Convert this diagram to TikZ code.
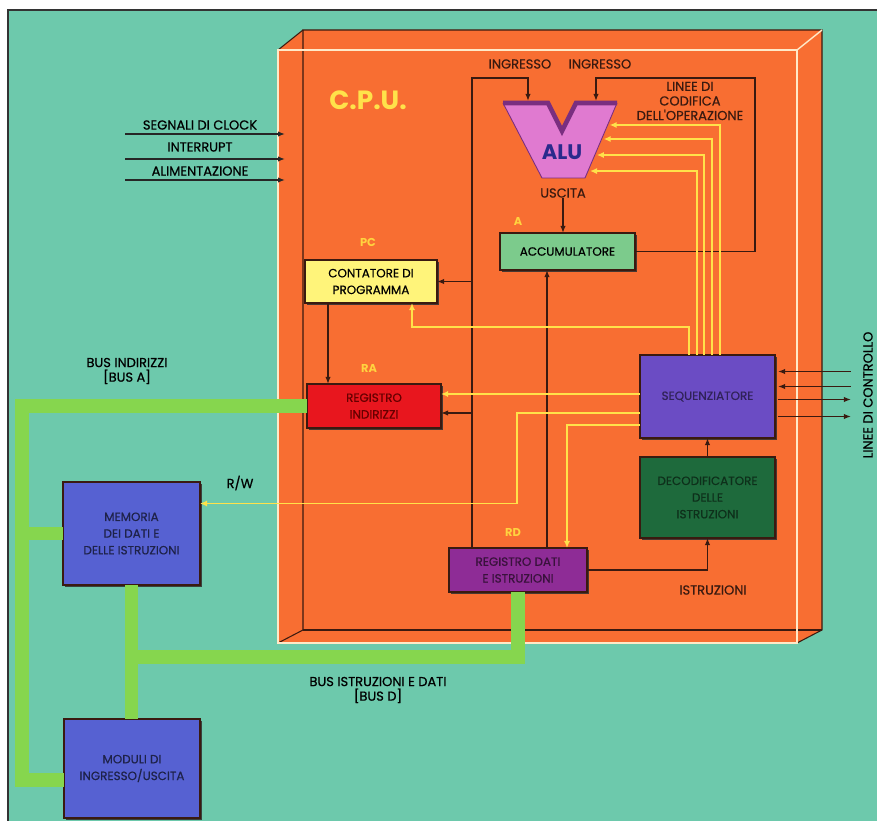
\documentclass[tikz,border=0pt]{standalone}
\usepackage{fontspec}
\setmainfont{Poppins}
\newfontfamily\lblfont{Poppins}[FakeBold=0.6]
\usepackage{tikz}
\usetikzlibrary{arrows.meta,calc,shadows}

\definecolor{fondo}{HTML}{6DC9AC}
\definecolor{cpuor}{HTML}{F86E32}
\definecolor{crema}{HTML}{FFE9C8}
\definecolor{busv}{HTML}{86D64E}
\definecolor{giallo}{HTML}{FFE24A}
\definecolor{scuro}{HTML}{3A1A10}
\definecolor{pcgiallo}{HTML}{FFF47A}
\definecolor{accverde}{HTML}{7CCB8C}
\definecolor{rarosso}{HTML}{E8161E}
\definecolor{seqviola}{HTML}{6B4CC4}
\definecolor{decverde}{HTML}{1E6A3C}
\definecolor{rdviola}{HTML}{8E2C96}
\definecolor{memblu}{HTML}{5661D2}
\definecolor{alurosa}{HTML}{E07AD0}
\definecolor{aluviola}{HTML}{7A2E80}
\definecolor{alublu}{HTML}{2A2A8C}

\begin{document}
\begin{tikzpicture}[
  x=0.02cm, y=-0.02cm,             % <-- coordinate in pixel
  blk/.style={draw=scuro, line width=1pt, align=center, inner sep=1pt, outer sep=0pt,
              font=\lblfont\fontsize{6.8}{9.5}\selectfont,
              drop shadow={shadow xshift=1.3pt, shadow yshift=-1.3pt, fill=black!80, opacity=.9}},
  edg/.style={-{Latex[length=4pt,width=3pt]}, line width=0.7pt, draw=scuro},
  ctl/.style={-{Latex[length=4pt,width=3.5pt]}, line width=0.9pt, draw=giallo},
  bus/.style={line width=0.28cm, draw=busv, line join=miter},
  lbl/.style={font=\lblfont\fontsize{7.4}{8.3}\selectfont, text=scuro, align=center, inner sep=0pt},
  sig/.style={font=\fontsize{6.5}{7}\selectfont\bfseries, text=giallo!85!orange, inner sep=0pt}
]

\useasboundingbox (0,0) rectangle (877,821);
\fill[white] (0,0) rectangle (877,821);
\fill[fondo] (8,10) rectangle (877,821);
\draw[black!80, line width=0.6pt] (8,821) -- (8,10) -- (877,10);

% CPU (scatola 3D)
\fill[cpuor] (278,50) -- (303,30) -- (822,30) -- (822,630) -- (797,643) -- (278,643) -- cycle;
\draw[scuro, line width=0.6pt] (303,630) -- (303,30) -- (822,30) -- (822,630) -- (797,643);
\draw[scuro, line width=0.6pt] (303,630) -- (822,630);
\draw[scuro, line width=0.6pt] (278,643) -- (303,630);
\draw[scuro, line width=0.6pt] (278,50) -- (303,30);
\node[draw=crema, line width=0.8pt, minimum width=10.38cm, minimum height=11.86cm, inner sep=0pt, outer sep=0pt] (CPU) at (537.5,346.5) {};
\draw[crema, line width=0.8pt] (797,50) -- (822,30);
\node[font=\fontsize{15}{17}\selectfont\bfseries, text=giallo] (cpulbl) at (368,100) {C.P.U.};

% ALU
\coordinate (aluTL) at (503,103);
\coordinate (aluTR) at (617,103);
\coordinate (aluBR) at (585,178);
\coordinate (aluBL) at (542,178);
\coordinate (aluA) at (528,101);
\coordinate (aluB) at (596,101);
\fill[alurosa] (aluTL) -- (548,103) -- (562,131) -- (576,103) -- (aluTR) -- (aluBR) -- (aluBL) -- cycle;
\draw[aluviola, line width=2.6pt, line join=miter] (aluTL) -- (548,103) -- (562,131) -- (576,103) -- (aluTR);
\draw[aluviola, line width=0.5pt] (aluTR) -- (aluBR) -- (aluBL) -- (aluTL);
\node[font=\fontsize{12}{13}\selectfont\bfseries, text=alublu] (ALU) at (562,152) {ALU};
\node[lbl] (usc) at (563,193) {USCITA};
\node[lbl] (in1) at (520,64) {INGRESSO};
\node[lbl] (in2) at (600,64) {INGRESSO};
\node[lbl] (cod) at (690,101) {LINEE DI\\CODIFICA\\DELL'OPERAZIONE};

% blocchi
\node[blk, fill=accverde, minimum width=2.7cm, minimum height=0.74cm] (ACC) at (567.5,251.5) {ACCUMULATORE};
\node[blk, fill=pcgiallo, minimum width=2.64cm, minimum height=0.86cm] (PC) at (371,281.5) {CONTATORE DI\\PROGRAMMA};
\node[blk, fill=rarosso, text=red!40!black, minimum width=2.68cm, minimum height=0.88cm] (RA) at (374,406) {REGISTRO\\INDIRIZZI};
\node[blk, fill=seqviola, text=seqviola!45!black, minimum width=2.7cm, minimum height=1.66cm] (SEQ) at (707.5,396.5) {SEQUENZIATORE};
\node[blk, fill=decverde, text=decverde!45!black, minimum width=2.7cm, minimum height=1.62cm] (DEC) at (707.5,497.5) {DECODIFICATORE\\DELLE\\ISTRUZIONI};
\node[blk, fill=rdviola, text=rdviola!40!black, minimum width=2.76cm, minimum height=0.88cm] (RD) at (518,570) {REGISTRO DATI\\E ISTRUZIONI};
\node[blk, fill=memblu, text=memblu!35!black, minimum width=2.74cm, minimum height=2.06cm] (MEM) at (131.5,533.5) {MEMORIA\\DEI DATI E\\DELLE ISTRUZIONI};
\node[blk, fill=memblu, text=memblu!35!black, minimum width=2.72cm, minimum height=1.98cm] (MOD) at (132,768.5) {MODULI DI\\INGRESSO/USCITA};

\node[sig] (lA) at (518,221) {A};
\node[sig] (lPC) at (368,242) {PC};
\node[sig] (lRA) at (369,368) {RA};
\node[sig] (lRD) at (513,532) {RD};

% bus
\coordinate (bA) at (22,780);
\coordinate (bD) at (0,657);
\draw[bus] (RA.west) -| (bA) -- (MOD.west |- bA);
\draw[bus] (bA |- MEM.west) -- (MEM.west);
\draw[bus] (RD.south) |- (MEM.south |- bD);
\draw[bus] (MEM.south) -- (MEM.south |- MOD.north);
\node[lbl, text=black] (lbA) at (127,371) {BUS INDIRIZZI\\{[}BUS A{]}};
\node[lbl, text=black] (lbD) at (378,690) {BUS ISTRUZIONI E DATI\\{[}BUS D{]}};

% linee scure
\coordinate (dx) at (472,78);
\coordinate (ax) at (547,0);
\coordinate (cR) at (755,78);
\draw[edg] (RD.north -| dx) -- (dx) -| (aluA);
\draw[edg] (dx |- PC.east) -- (PC.east);
\draw[edg] (dx |- RA.east) ++(0,7) -- ($(RA.east)+(0,7)$);
\draw[edg] (RD.north -| ax) -- (ACC.south -| ax);
\draw[edg] (usc.south) -- (usc.south |- ACC.north);
\draw[edg] (ACC.east) -| (cR) -| (aluB);
\draw[edg] ([xshift=-0.86cm]PC.south) -- ([xshift=-0.86cm]PC.south |- RA.north);
\draw[edg] (RD.east) -| (DEC.south);
\draw[edg] (DEC.north) -- (SEQ.south);
\node[lbl] (istr) at (713,590) {ISTRUZIONI};

% linee di controllo
\foreach \dy in {-25,-10} \draw[edg] ($(SEQ.east)+(76,\dy)$) -- ($(SEQ.east)+(3,\dy)$);
\foreach \dy in {3,20} \draw[edg] ($(SEQ.east)+(3,\dy)$) -- ($(SEQ.east)+(76,\dy)$);
\node[lbl, text=black, rotate=90] (lctl) at (868,395) {LINEE DI CONTROLLO};

% segnali esterni
\foreach \y/\t [count=\i] in {125/SEGNALI DI CLOCK,147/INTERRUPT,171/ALIMENTAZIONE}
  \node[lbl, text=black] (ext\i) at (200,\y) {\t};
\foreach \y [count=\i] in {134,159,180}{
  \coordinate (clk\i) at (125,\y);
  \draw[edg, draw=black!85] (clk\i) -- ($(clk\i -| CPU.west)+(7,0)$);
}

% linee gialle dal sequenziatore
\foreach \x/\t in {720/0.293,712/0.48,704/0.693,697/0.907}
  \draw[ctl] (\x,0 |- SEQ.north) |- ($(aluTR)!\t!(aluBR)+(2,0)$);
\draw[ctl] (689,0 |- SEQ.north) -- (689,327) -| ($(PC.south)+(41,0)$);
\coordinate (ra1) at ($(RA.east)+(0,-12)$);
\draw[ctl] (SEQ.west |- ra1) -- (ra1);
\coordinate (rw) at ($(MEM.east)+(0,-30)$);
\draw[ctl] (SEQ.west |- 0,413) -| (517,0 |- rw) -- (rw);
\draw[ctl] (SEQ.west |- 0,425) -| (567,0 |- RD.north);
\node[lbl, text=black] (lrw) at (240,483) {R/W};

\end{tikzpicture}
\end{document}
